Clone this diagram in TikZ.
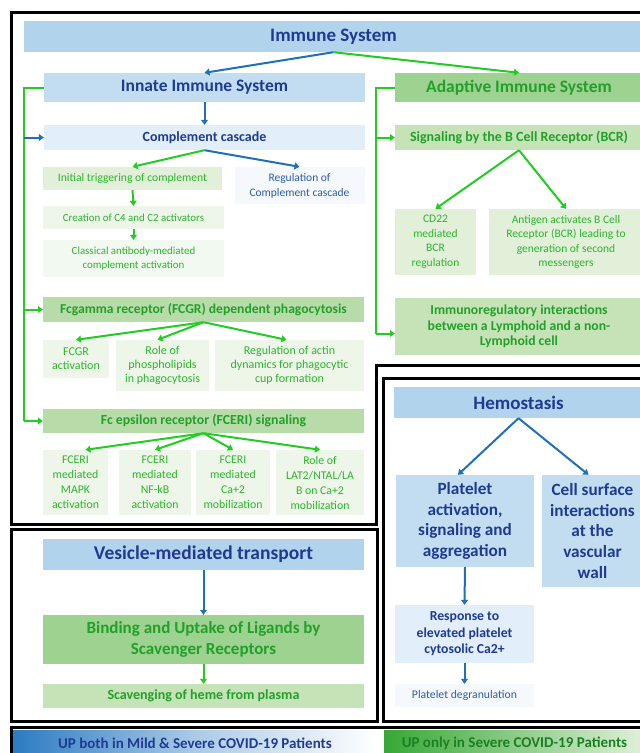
\documentclass[tikz,border=0pt]{standalone}
\usepackage{fontspec}
\setmainfont{Carlito}
\usetikzlibrary{arrows.meta}

\definecolor{blueA}{HTML}{B1D3EC}
\definecolor{blueB}{HTML}{C3DDF0}
\definecolor{blueC}{HTML}{E2EEF9}
\definecolor{blueD}{HTML}{F5F8FC}
\definecolor{greenA}{HTML}{9DD290}
\definecolor{greenB}{HTML}{B8DCA9}
\definecolor{greenC}{HTML}{C5E3B7}
\definecolor{greenD}{HTML}{E2F0DA}
\definecolor{greenE}{HTML}{EDF6E9}
\definecolor{navyT}{HTML}{1F3A93}
\definecolor{blueT}{HTML}{2E5EAA}
\definecolor{greenT}{HTML}{22A02A}
\definecolor{limeT}{HTML}{2DB52D}
\definecolor{arrgreen}{HTML}{22CC22}
\definecolor{arrblue}{HTML}{1E70B8}
\definecolor{legblue}{HTML}{2C7BC2}
\definecolor{leggreen}{HTML}{36A836}

\newcommand{\fsz}[2]{\fontsize{#1}{#2}\selectfont}

\tikzset{
  box/.style={inner sep=0pt, align=center},
  garrow/.style={draw=arrgreen, line width=2pt, -{Triangle[length=5pt,width=7pt]}},
  barrow/.style={draw=arrblue, line width=2pt, -{Triangle[length=5pt,width=7pt]}},
  gline/.style={draw=arrgreen, line width=2pt},
  frame/.style={draw=black, line width=3pt},
}

\begin{document}
\begin{tikzpicture}[x=1pt,y=-1pt]
\useasboundingbox (0,0) rectangle (640,753);
\clip (0,0) rectangle (640,753);
\fill[white] (0,0) rectangle (640,753);

% frames
\draw[frame] (660,12) -- (11,12) -- (11,524) -- (376,524) -- (376,365) -- (660,365);
\draw[frame] (11,529) rectangle (377,721);
\draw[frame] (660,378) -- (383,378) -- (383,721) -- (660,721);
\draw[frame] (660,727) -- (11,727) -- (11,760);

% immune system
\node[box, fill=blueA, text=navyT, minimum width=619, minimum height=31, font=\fsz{19}{23}\bfseries] (immune) at (333.5,36.5) {Immune System};
\node[box, fill=blueB, text=navyT, minimum width=321, minimum height=29, font=\fsz{17.5}{20}\bfseries] (innate) at (204.5,87.5) {Innate Immune System};
\node[box, fill=greenA, text=greenT, minimum width=248, minimum height=29, font=\fsz{17.5}{20}\bfseries] (adaptive) at (519,87.5) {Adaptive Immune System};

% innate
\node[box, fill=blueC, text=navyT, minimum width=321, minimum height=25, font=\fsz{14}{17}\bfseries] (complement) at (204.5,137.5) {Complement cascade};
\node[box, fill=greenD, text=limeT, minimum width=179, minimum height=23, font=\fsz{11.6}{15}] (initial) at (132.5,178.5) {Initial triggering of complement};
\node[box, fill=blueD, text=blueT, minimum width=130, minimum height=37, font=\fsz{11.5}{15}] (regcomp) at (299.5,185.5) {Regulation of\\Complement cascade};
\node[box, fill=greenE, text=limeT, minimum width=181, minimum height=23, font=\fsz{10.9}{13}] (creation) at (133.5,217.5) {Creation of C4 and C2 activators};
\node[box, fill=greenE!70!white, text=limeT, minimum width=181, minimum height=37, font=\fsz{10.9}{13.5}] (classical) at (133.5,258.5) {Classical antibody-mediated\\complement activation};

\node[box, fill=greenB, text=greenT, minimum width=321, minimum height=25, font=\fsz{13.6}{16}\bfseries] (fcgr) at (203.5,309.5) {Fcgamma receptor (FCGR) dependent phagocytosis};
\node[box, fill=greenE, text=limeT, minimum width=66, minimum height=38, font=\fsz{12}{14}] (fcgract) at (76,359) {FCGR\\activation};
\node[box, fill=greenE, text=limeT, minimum width=93, minimum height=51, font=\fsz{12}{14}] (phospho) at (162.5,365.5) {Role of\\phospholipids\\in phagocytosis};
\node[box, fill=greenE, text=limeT, minimum width=149, minimum height=51, font=\fsz{12}{14}] (actin) at (289.5,365.5) {Regulation of actin\\dynamics for phagocytic\\cup formation};

\node[box, fill=greenB, text=greenT, minimum width=321, minimum height=24, font=\fsz{13.8}{16}\bfseries] (fceps) at (203.5,421) {Fc epsilon receptor (FCERI) signaling};
\node[box, fill=greenE, text=limeT, minimum width=65, minimum height=65, font=\fsz{11.8}{15}] (mapk) at (75.5,482.5) {FCERI\\mediated\\MAPK\\activation};
\node[box, fill=greenE, text=limeT, minimum width=72, minimum height=65, font=\fsz{11.8}{15}] (nfkb) at (155,482.5) {FCERI\\mediated\\NF-kB\\activation};
\node[box, fill=greenE, text=limeT, minimum width=74, minimum height=65, font=\fsz{11.8}{15}] (camob) at (233,482.5) {FCERI\\mediated\\Ca+2\\mobilization};
\node[box, fill=greenE, text=limeT, minimum width=88, minimum height=65, font=\fsz{11.8}{15}] (lat2) at (320,482.5) {Role of\\LAT2/NTAL/LA\\B on Ca+2\\mobilization};

% adaptive
\node[box, fill=greenC, text=greenT, minimum width=248, minimum height=25, font=\fsz{14}{17}\bfseries] (bcr) at (519,137.5) {Signaling by the B Cell Receptor (BCR)};
\node[box, fill=greenD, text=limeT, minimum width=81, minimum height=66, font=\fsz{11.5}{14.5}] (cd22) at (435.5,242) {CD22\\mediated\\BCR\\regulation};
\node[box, fill=greenD, text=limeT, minimum width=154, minimum height=66, font=\fsz{11.5}{14.5}] (antigen) at (566,242) {Antigen activates B Cell\\Receptor (BCR) leading to\\generation of second\\messengers};
\node[box, fill=greenC, text=greenT, minimum width=248, minimum height=57, font=\fsz{13.7}{15.5}\bfseries] (immunoreg) at (519,326.5) {Immunoregulatory interactions\\between a Lymphoid and a non-\\Lymphoid cell};

% vesicle
\node[box, fill=blueA, text=navyT, minimum width=321, minimum height=31, font=\fsz{19.5}{22}\bfseries] (vesicle) at (203.5,554.5) {Vesicle-mediated transport};
\node[box, fill=greenA, text=greenT, minimum width=321, minimum height=49, font=\fsz{17}{21}\bfseries] (binding) at (203.5,639.5) {Binding and Uptake of Ligands by\\Scavenger Receptors};
\node[box, fill=greenC, text=greenT, minimum width=321, minimum height=24, font=\fsz{14}{16}\bfseries] (scav) at (203.5,696) {Scavenging of heme from plasma};

% hemostasis
\node[box, fill=blueA, text=navyT, minimum width=249, minimum height=31, font=\fsz{19}{23}\bfseries] (hemo) at (518.5,402.5) {Hemostasis};
\node[box, fill=blueB, text=navyT, minimum width=138, minimum height=92, font=\fsz{17.2}{20.6}\bfseries] (platelet) at (465,521) {Platelet\\activation,\\signaling and\\aggregation};
\node[box, fill=blueB, text=navyT, minimum width=101, minimum height=112, font=\fsz{17.2}{20.6}\bfseries] (cellsurf) at (592.5,531) {Cell surface\\interactions\\at the\\vascular\\wall};
\node[box, fill=blueC, text=navyT, minimum width=139, minimum height=58, font=\fsz{13.7}{16.5}\bfseries] (response) at (464.5,634) {Response to\\elevated platelet\\cytosolic Ca2+};
\node[box, fill=blueD, text=blueT, minimum width=139, minimum height=23, font=\fsz{11.7}{14}] (degran) at (464.5,695.5) {Platelet degranulation};

% legend
\node[box, left color=legblue, right color=white, middle color=legblue!40, text=navyT, minimum width=364, minimum height=27, font=\fsz{15}{17}\bfseries] (legup) at (195,743.5) {UP both in Mild \& Severe COVID-19 Patients};
\node[box, left color=leggreen, right color=greenD, middle color=leggreen!50!greenD, text=greenT!80!black, minimum width=261, minimum height=27, font=\fsz{15}{17}\bfseries] (legsev) at (514.5,743.5) {UP only in Severe COVID-19 Patients};
\fill[left color=legblue, right color=white, middle color=legblue!40] (legup.south west) rectangle ++(364,10);
\fill[left color=leggreen, right color=greenD, middle color=leggreen!50!greenD] (legsev.south west) rectangle ++(261,10);

% connectors
\draw[barrow] (immune.south) -- (innate.north);
\draw[garrow] (immune.south) -- (adaptive.north);
\draw[barrow] (innate.south) -- (complement.north);

\coordinate (ltrunk) at (24,0);
\draw[gline] (innate.west) -- (innate.west -| ltrunk) -- (fceps.west -| ltrunk);
\draw[barrow] (complement.west -| ltrunk) -- (complement.west);
\draw[garrow] (fcgr.west -| ltrunk) -- (fcgr.west);
\draw[garrow] (fceps.west -| ltrunk) -- (fceps.west);

\draw[garrow] (complement.south) -- (initial.north);
\draw[barrow] (complement.south) -- (regcomp.north);
\draw[garrow] (initial.south) -- (creation.north);
\draw[garrow] (creation.south) -- (classical.north);

\draw[garrow] (fcgr.south) -- (fcgract.north);
\draw[garrow] (fcgr.south) -- ([xshift=-5]phospho.north);
\draw[garrow] (fcgr.south) -- ([xshift=-3]actin.north);
\draw[garrow] (fceps.south) -- ([xshift=10]mapk.north);
\draw[garrow] (fceps.south) -- (nfkb.north);
\draw[garrow] (fceps.south) -- (camob.north);
\draw[garrow] (fceps.south) -- (lat2.north);

\coordinate (rtrunk) at (376,0);
\coordinate (ireg) at ([yshift=-7]immunoreg.west);
\draw[gline] (adaptive.west) -- (adaptive.west -| rtrunk) -- (ireg -| rtrunk);
\draw[garrow] (bcr.west -| rtrunk) -- (bcr.west);
\draw[garrow] (ireg -| rtrunk) -- (ireg);
\draw[garrow] (bcr.south) -- (cd22.north);
\draw[garrow] (bcr.south) -- (antigen.north);

\draw[barrow] (vesicle.south) -- (binding.north);
\draw[garrow] (binding.south) -- (scav.north);

\draw[barrow] (hemo.south) -- ([xshift=-7]platelet.north);
\draw[barrow] (hemo.south) -- ([xshift=-4]cellsurf.north);
\draw[barrow] (platelet.south) -- (response.north);
\draw[barrow] (response.south) -- (degran.north);
\end{tikzpicture}
\end{document}
